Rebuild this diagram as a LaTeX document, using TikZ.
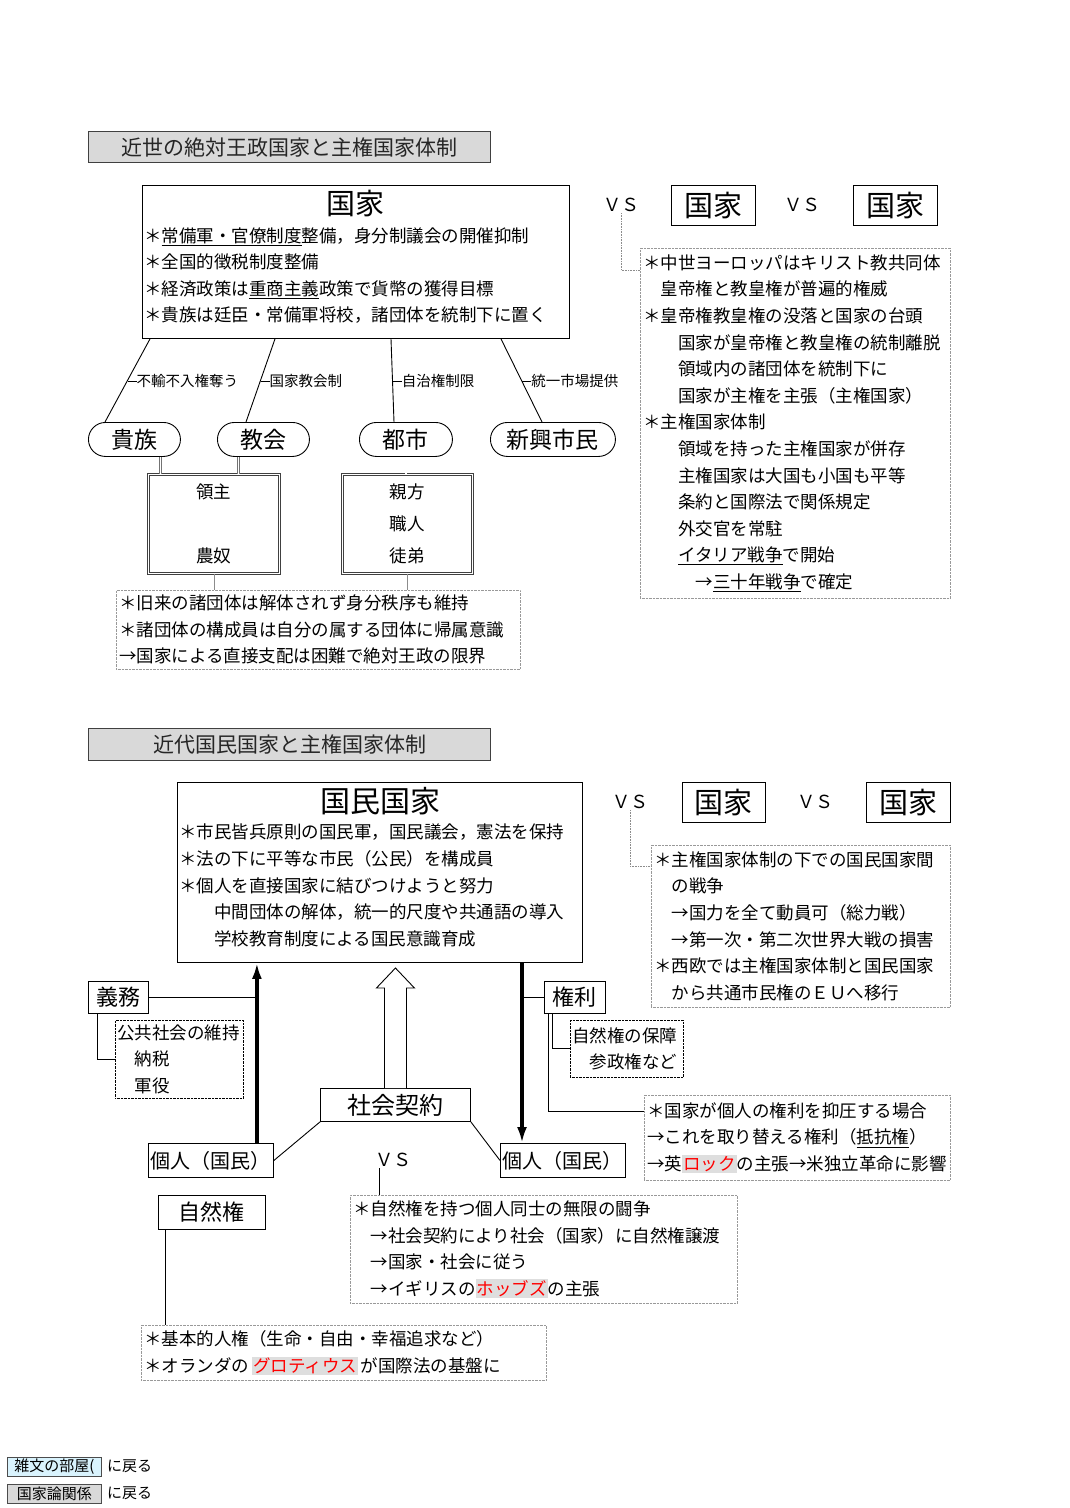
\documentclass[tikz,border=0pt]{standalone}
\usepackage{fontspec}
\setmainfont{Noto Sans CJK JP}
\usetikzlibrary{arrows.meta}

\newcommand{\bodyfont}{\fontsize{17.5}{26.6}\selectfont}
\newcommand{\tick}{\rule[5pt]{9pt}{0.7pt}}
\newcommand{\hlname}[1]{{\setlength{\fboxsep}{1pt}\colorbox{black!13}{\textcolor{red}{#1}}}}

\begin{document}
\begin{tikzpicture}[
    x=1pt, y=-1pt,
    heading/.style={draw=black!75, line width=1.3pt, fill=black!15, anchor=north west, minimum width=402pt, minimum height=31pt, font=\fontsize{21}{21}\selectfont, text=black!85},
    frame/.style={draw, line width=0.9pt, anchor=north west, inner sep=0pt},
    body/.style={align=left, inner sep=0pt, font=\bodyfont},
    rival/.style={frame, minimum width=84pt, minimum height=40pt, font=\fontsize{29}{29}\selectfont},
    vs/.style={inner sep=1pt, font=\fontsize{18}{18}\selectfont},
    group/.style={draw, line width=0.9pt, rounded corners=17pt, anchor=north west, minimum height=34pt, font=\fontsize{23}{23}\selectfont},
    member/.style={draw=black!75, double, double distance=1.3pt, line width=0.6pt, anchor=north west, minimum width=131pt, minimum height=99pt, align=center, font=\fontsize{17.5}{32}\selectfont},
    note/.style={draw=black!40, densely dotted, anchor=north west, align=left, inner xsep=3pt, inner ysep=0pt, font=\bodyfont},
    sub/.style={draw, densely dotted, anchor=north west, align=left, inner xsep=2pt, inner ysep=0pt, font=\bodyfont},
    tag/.style={frame, minimum height=32pt, font=\fontsize{22}{22}\selectfont},
    lbl/.style={anchor=west, inner sep=0pt, font=\fontsize{14.5}{14.5}\selectfont},
    edge/.style={line width=0.9pt},
    link/.style={draw=black!55, double, double distance=1.2pt, line width=0.6pt},
    guide/.style={draw=black!45, line width=0.5pt},
    guidedot/.style={draw=black!45, densely dotted, line width=0.6pt},
    power/.style={line width=3.4pt, -{Latex[length=16pt,width=10pt]}},
    back/.style={draw=black!70, line width=0.8pt, anchor=north west, minimum width=94pt, minimum height=19pt, inner sep=0pt, font=\fontsize{15}{15}\selectfont}
]
\useasboundingbox (0,0) rectangle (1069,1508);

% Absolutism
\node[heading] (head1) at (88,131) {近世の絶対王政国家と主権国家体制};

\node[frame, minimum width=427pt, minimum height=153pt] (state) at (142,185) {};
\node[font=\fontsize{29}{29}\selectfont] (statehead) at (355.5,204) {国家};
\node[body, anchor=west] (statetext) at (144,275.5) {＊\underline{常備軍・官僚制度}整備，身分制議会の開催抑制\\
＊全国的徴税制度整備\\
＊経済政策は\underline{重商主義}政策で貨幣の獲得目標\\
＊貴族は廷臣・常備軍将校，諸団体を統制下に置く};

\node[vs] (vs1) at (621,205) {ＶＳ};
\node[rival] (rival1) at (671,185) {国家};
\node[vs] (vs2) at (802,205) {ＶＳ};
\node[rival] (rival2) at (853,185) {国家};

\node[note, text width=304pt, minimum height=350pt] (fact1) at (640,248) {＊中世ヨーロッパはキリスト教共同体\\
　皇帝権と教皇権が普遍的権威\\
＊皇帝権教皇権の没落と国家の台頭\\
　　国家が皇帝権と教皇権の統制離脱\\
　　領域内の諸団体を統制下に\\
　　国家が主権を主張（主権国家）\\
＊主権国家体制\\
　　領域を持った主権国家が併存\\
　　主権国家は大国も小国も平等\\
　　条約と国際法で関係規定\\
　　外交官を常駐\\
　　\underline{イタリア戦争}で開始\\
　　　→\underline{三十年戦争}で確定\\[-5pt]};
\draw[guidedot] (vs1.south) |- ([yshift=-22pt]fact1.north west);

% Groups
\node[group, minimum width=92pt] (kizoku) at (88,422) {貴族};
\node[group, minimum width=92pt] (kyokai) at (217,422) {教会};
\node[group, minimum width=93pt] (toshi) at (359,422) {都市};
\node[group, minimum width=125pt] (shinko) at (490,422) {新興市民};

\draw[edge] ([xshift=8pt]state.south west) -- node[lbl, pos=0.51] (cut1) {\tick 不輸不入権奪う} ([xshift=17pt]kizoku.north west);
\draw[edge] ([xshift=133pt]state.south west) -- node[lbl, pos=0.51] (cut2) {\tick 国家教会制} ([xshift=29pt]kyokai.north west);
\draw[edge] ([xshift=249pt]state.south west) -- node[lbl, pos=0.51] (cut3) {\tick 自治権制限} ([xshift=35pt]toshi.north west);
\draw[edge] ([xshift=359pt]state.south west) -- node[lbl, pos=0.51] (cut4) {\tick 統一市場提供} ([xshift=52pt]shinko.north west);

\node[member] (lord) at (148,474) {領主\\[32pt]農奴};
\node[member, minimum width=130pt] (guild) at (342,474) {親方\\職人\\徒弟};
\draw[link] ([xshift=26pt]kizoku.south) -- ([xshift=26pt]kizoku.south |- lord.north);
\draw[link] ([xshift=-25pt]kyokai.south) -- ([xshift=-25pt]kyokai.south |- lord.north);
\draw[link] (toshi.south) -- (toshi.south |- guild.north);

\node[note, text width=398pt, minimum height=79pt] (limit) at (116,590) {＊旧来の諸団体は解体されず身分秩序も維持\\
＊諸団体の構成員は自分の属する団体に帰属意識\\
→国家による直接支配は困難で絶対王政の限界};
\draw[guide] (lord.south) -- (lord.south |- limit.north);
\draw[guide] (guild.south) -- (guild.south |- limit.north);

% Nation state
\node[heading, minimum height=32pt] (head2) at (88,728) {近代国民国家と主権国家体制};

\node[frame, minimum width=405pt, minimum height=180pt] (nation) at (177,782) {};
\node[font=\fontsize{30}{30}\selectfont] (nationhead) at (380,801) {国民国家};
\node[body, anchor=west] (nationtext) at (179,885.5) {＊市民皆兵原則の国民軍，国民議会，憲法を保持\\
＊法の下に平等な市民（公民）を構成員\\
＊個人を直接国家に結びつけようと努力\\
　　中間団体の解体，統一的尺度や共通語の導入\\
　　学校教育制度による国民意識育成};

\node[vs] (vs3) at (630,802) {ＶＳ};
\node[rival, minimum width=83pt] (rival3) at (682,782) {国家};
\node[vs] (vs4) at (815,802) {ＶＳ};
\node[rival] (rival4) at (866,782) {国家};

\node[note, text width=293pt, minimum height=162pt] (fact2) at (651,845) {＊主権国家体制の下での国民国家間\\
　の戦争\\
　→国力を全て動員可（総力戦）\\
　→第一次・第二次世界大戦の損害\\
＊西欧では主権国家体制と国民国家\\
　から共通市民権のＥＵへ移行\\[-5pt]};
\draw[guidedot] (vs3.south) |- ([yshift=-21pt]fact2.north west);

% Individuals
\node[tag, minimum width=125pt, minimum height=34pt, font=\fontsize{20}{20}\selectfont] (indiv1) at (148,1143) {個人（国民）};
\node[tag, minimum width=125pt, minimum height=34pt, font=\fontsize{20}{20}\selectfont] (indiv2) at (500,1143) {個人（国民）};
\coordinate (upx) at ([xshift=-17pt]indiv1.north east);
\coordinate (downx) at ([xshift=22pt]indiv2.north west);
\draw[power] (upx) -- (upx |- nation.south);
\draw[power] (downx |- nation.south) -- (downx);

\node[tag, minimum width=60pt] (duty) at (88,981) {義務};
\node[sub, text width=124pt, minimum height=78pt] (dutynote) at (115,1020) {公共社会の維持\\
　納税\\
　軍役};
\draw[edge] (duty.east) -- (duty.east -| upx);
\draw[edge] ([xshift=9pt]duty.south west) |- (dutynote.west);

\node[tag, minimum width=61pt] (rights) at (544,981) {権利};
\node[sub, text width=109pt, minimum height=57pt] (rightnote) at (570,1020) {自然権の保障\\
　参政権など};
\node[note, text width=300pt, minimum height=85pt] (resist) at (644,1095) {＊国家が個人の権利を抑圧する場合\\
→これを取り替える権利（\underline{抵抗権}）\\
→英\hlname{ロック}の主張→米独立革命に影響};
\draw[edge] (rights.west -| downx) -- (rights.west);
\draw[edge] ([xshift=8pt]rights.south west) |- (rightnote.west);
\draw[edge] ([xshift=4pt]rights.south west) |- ([yshift=-16pt]resist.north west);

% Social contract
\node[tag, minimum width=150pt, minimum height=33pt, font=\fontsize{24}{24}\selectfont] (contract) at (320,1088) {社会契約};
\draw[line width=0.9pt, fill=white] ([xshift=-11pt]contract.north) -- ++(0,-100) -- ++(-8,0) -- ++(19,-20) -- ++(19,20) -- ++(-8,0) -- ++(0,100);
\draw[edge] (contract.south west) -- (indiv1.east);
\draw[edge] (contract.south east) -- (indiv2.west);

\node[vs] (vs5) at (393,1160) {ＶＳ};
\node[note, text width=381pt, minimum height=108pt] (hobbes) at (350,1195) {＊自然権を持つ個人同士の無限の闘争\\
　→社会契約により社会（国家）に自然権譲渡\\
　→国家・社会に従う\\
　→イギリスの\hlname{ホッブズ}の主張};
\draw[edge] ([xshift=6pt]vs5.south west) -- ([xshift=6pt]vs5.south west |- hobbes.north);

\node[tag, minimum width=107pt, minimum height=34pt] (natural) at (158,1195) {自然権};
\draw[link] ([xshift=-6pt]indiv1.south) -- ([xshift=-6pt]indiv1.south |- natural.north);

\node[note, text width=399pt, minimum height=55pt] (grotius) at (141,1325) {＊基本的人権（生命・自由・幸福追求など）\\
＊オランダの\,\hlname{グロティウス}\,が国際法の基盤に};
\draw[edge] ([xshift=7pt]natural.south west) -- ([xshift=7pt]natural.south west |- grotius.north);

% Back links
\node[back, fill=cyan!15] (home) at (7,1457) {雑文の部屋(};
\node[anchor=west, inner sep=0pt, font=\fontsize{15}{15}\selectfont] (homeback) at (107,1466.5) {に戻る};
\node[back, fill=black!15] (theory) at (7,1484) {国家論関係};
\node[anchor=west, inner sep=0pt, font=\fontsize{15}{15}\selectfont] (theoryback) at (107,1493.5) {に戻る};

\end{tikzpicture}
\end{document}
